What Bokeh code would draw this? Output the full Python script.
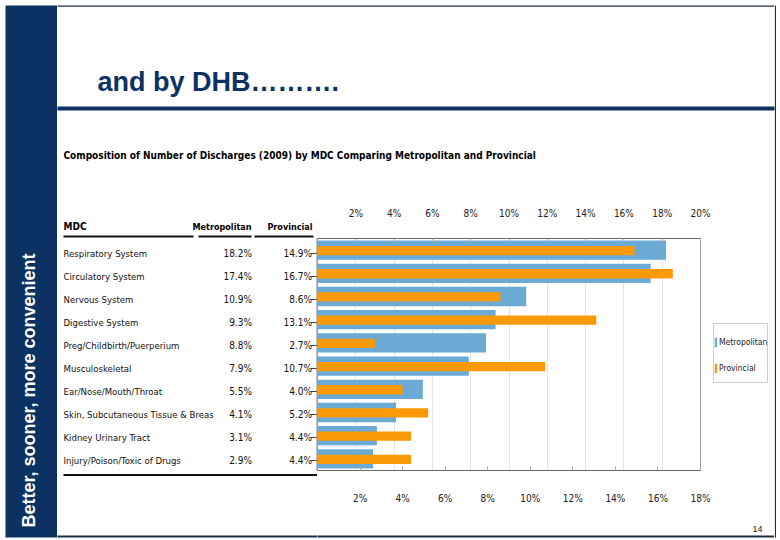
from bokeh.plotting import figure
from bokeh.layouts import row, column
from bokeh.models import (Range1d, LinearAxis, FixedTicker, PrintfTickFormatter,
                          Label, Legend, LegendItem, ColumnDataSource)
from bokeh.embed import file_html
from bokeh.resources import INLINE

# ---------------- data ----------------
categories = ["Respiratory System", "Circulatory System", "Nervous System",
              "Digestive System", "Preg/Childbirth/Puerperium", "Musculoskeletal",
              "Ear/Nose/Mouth/Throat", "Skin, Subcutaneous Tissue & Breas",
              "Kidney Urinary Tract", "Injury/Poison/Toxic of Drugs"]
metropolitan = [18.2, 17.4, 10.9, 9.3, 8.8, 7.9, 5.5, 4.1, 3.1, 2.9]
provincial = [14.9, 16.7, 8.6, 13.1, 2.7, 10.7, 4.0, 5.2, 4.4, 4.4]
top_ticks = [2, 4, 6, 8, 10, 12, 14, 16, 18, 20]
bottom_ticks = [2, 4, 6, 8, 10, 12, 14, 16, 18]
series_names = ["Metropolitan", "Provincial"]
table_headers = ["MDC", "Metropolitan", "Provincial"]
slide_title = "and by DHB\u2026\u2026\u2026."
side_text = "Better, sooner, more convenient"
chart_title = "Composition of Number of Discharges (2009) by MDC Comparing Metropolitan and Provincial"
page_no = "14"

# ---------------- styles ----------------
NAVY = "#0b3263"
LINE = "#1a2e44"
BLUE = "#6aaad4"
ORANGE = "#fb9a06"
NARROW = "'Liberation Sans Narrow', 'DejaVu Sans Condensed', sans-serif"
ARIAL = "'Liberation Sans', Arial, sans-serif"

n = len(categories)


def page_fig(x0, x1, y0, y1):
    """A figure whose frame is a piece of the page, in page pixels."""
    f = figure(width=x1 - x0, height=y1 - y0, output_backend="svg",
               toolbar_location=None, title=None,
               x_range=Range1d(x0, x1), y_range=Range1d(y1, y0),
               x_axis_location=None, y_axis_location=None, min_border=0)
    f.outline_line_color = None
    f.xgrid.visible = False
    f.ygrid.visible = False
    f.background_fill_color = "white"
    f.border_fill_color = "white"
    return f


def box(f, l, r, t, b, fill=None, line=None, lw=1):
    f.quad(left=[l], right=[r], top=[t], bottom=[b],
           fill_color=fill, fill_alpha=1 if fill else 0,
           line_color=line, line_width=lw)


def lab(f, x, y, text, size, color="#111111", bold=False, align="left",
        baseline="middle", font=NARROW, angle=0):
    f.add_layout(Label(x=x, y=y, text=text, text_font=font,
                       text_font_size=f"{size}px",
                       text_font_style="bold" if bold else "normal",
                       text_color=color, text_align=align, text_baseline=baseline,
                       angle=angle, angle_units="deg"))


# ---------------- Z: left navy band ----------------
Z = page_fig(0, 57, 0, 540)
box(Z, 5, 60, 5, 537, fill=NAVY)
lab(Z, 28, 527, side_text, 18, color="white", bold=True, font=ARIAL, angle=90)

# ---------------- R: right frame line ----------------
R = page_fig(774, 780, 0, 540)
box(R, 774.3, 775.5, 5, 537, fill=LINE)
box(R, 773, 775.5, 106, 110, fill=NAVY)

# ---------------- A: slide header ----------------
A = page_fig(57, 774, 0, 204)
box(A, 55, 776, 5, 6.2, fill=LINE)
box(A, 55, 776, 106, 110, fill=NAVY)
lab(A, 97, 81, slide_title, 27, color=NAVY, bold=True, font=ARIAL)
lab(A, 63, 155, chart_title, 10, color="#000000", bold=True)

# ---------------- B: table ----------------
B = page_fig(57, 317, 204, 540)
box(B, 55, 319, 535, 537, fill=LINE)
lab(B, 63, 226, table_headers[0], 10, color="#000000", bold=True)
lab(B, 251, 226, table_headers[1], 9, color="#000000", bold=True, align="right")
lab(B, 312, 226, table_headers[2], 9, color="#000000", bold=True, align="right")
box(B, 63, 193, 235, 237, fill="#111111")
box(B, 198, 251, 235, 237, fill="#111111")
box(B, 254, 313, 235, 237, fill="#111111")
box(B, 63, 319, 473.5, 475.5, fill="#111111")
for i, (c, m, v) in enumerate(zip(categories, metropolitan, provincial)):
    yy = 253 + 23.0 * i
    lab(B, 63, yy, c, 9.5, color="#111111")
    lab(B, 251.5, yy, f"{m:.1f}%", 10, color="#111111", align="right")
    lab(B, 311.5, yy, f"{v:.1f}%", 10, color="#111111", align="right")
    # left-axis tick marks of the bar panel
    B.segment(x0=[310], x1=[317], y0=[yy], y1=[yy], line_color="#444444", line_width=1)
box(B, 316, 318, 238, 470, fill="#8a8a8a")

# ---------------- C: the bar chart ----------------
C = figure(width=395, height=319, output_backend="svg", toolbar_location=None,
           title=None, x_range=Range1d(0, 20), y_range=Range1d(n, 0),
           x_axis_location="above", y_axis_location=None,
           min_border_left=0, min_border_right=12,
           min_border_top=34, min_border_bottom=53)
C.extra_x_ranges = {"prov": Range1d(0, 18)}
C.background_fill_color = "white"
C.border_fill_color = "white"
C.outline_line_color = "#9a9a9a"

src = ColumnDataSource(dict(
    cat=categories,
    y=[i + 0.5 for i in range(n)],
    yp=[i + 0.52 for i in range(n)],
    metro=metropolitan, prov=provincial))

C.hbar(y="y", left=0, right="metro", height=0.83, source=src,
       fill_color=BLUE, line_color=None)
C.hbar(y="yp", left=0, right="prov", height=0.4, source=src,
       fill_color=ORANGE, line_color=None, x_range_name="prov")


def style_axis(a, standoff):
    a.major_tick_in = 4
    a.major_tick_out = 0
    a.minor_tick_line_color = None
    a.axis_line_color = "#666666"
    a.major_tick_line_color = "#aaaaaa"
    a.major_label_standoff = standoff
    a.major_label_text_font = NARROW
    a.major_label_text_font_size = "10px"
    a.major_label_text_color = "#222222"


ax = C.xaxis[0]
ax.ticker = FixedTicker(ticks=top_ticks)
ax.formatter = PrintfTickFormatter(format="%d%%")
style_axis(ax, 20)

bx = LinearAxis(x_range_name="prov", ticker=FixedTicker(ticks=bottom_ticks),
                formatter=PrintfTickFormatter(format="%d%%"))
style_axis(bx, 22)
C.add_layout(bx, "below")

C.xgrid.ticker = FixedTicker(ticks=top_ticks)
C.xgrid.grid_line_color = "#e4e4e4"
C.ygrid.visible = False

# ---------------- D: legend ----------------
D = page_fig(712, 774, 204, 523)
box(D, 713, 767, 323, 382, line="#cccccc")
# legend swatches (one point, outside the visible range)
lm = D.quad(left=[0], right=[1], top=[0], bottom=[1], fill_color=BLUE, line_color=None)
lp = D.quad(left=[0], right=[1], top=[0], bottom=[1], fill_color=ORANGE, line_color=None)
legend = Legend(items=[LegendItem(label=series_names[0], renderers=[lm]),
                       LegendItem(label=series_names[1], renderers=[lp])],
                location=(714 - 712, 523 - 378), glyph_width=3, glyph_height=12,
                label_height=20, spacing=6, padding=0, margin=0,
                border_line_color=None, background_fill_alpha=0,
                label_text_font=NARROW, label_text_font_size="8.5px",
                label_standoff=2, label_text_color="#222222")
D.add_layout(legend, "center")

# ---------------- E: bottom strip ----------------
E = page_fig(317, 774, 523, 540)
box(E, 315, 776, 535, 537, fill=LINE)
lab(E, 757, 528, page_no, 9, color="#222222", align="center", font=ARIAL)

middle = column(A, row(B, column(row(C, column(D)), E)))
layout = row(Z, middle, R)
open("out.html", "w").write(file_html(layout, INLINE))
